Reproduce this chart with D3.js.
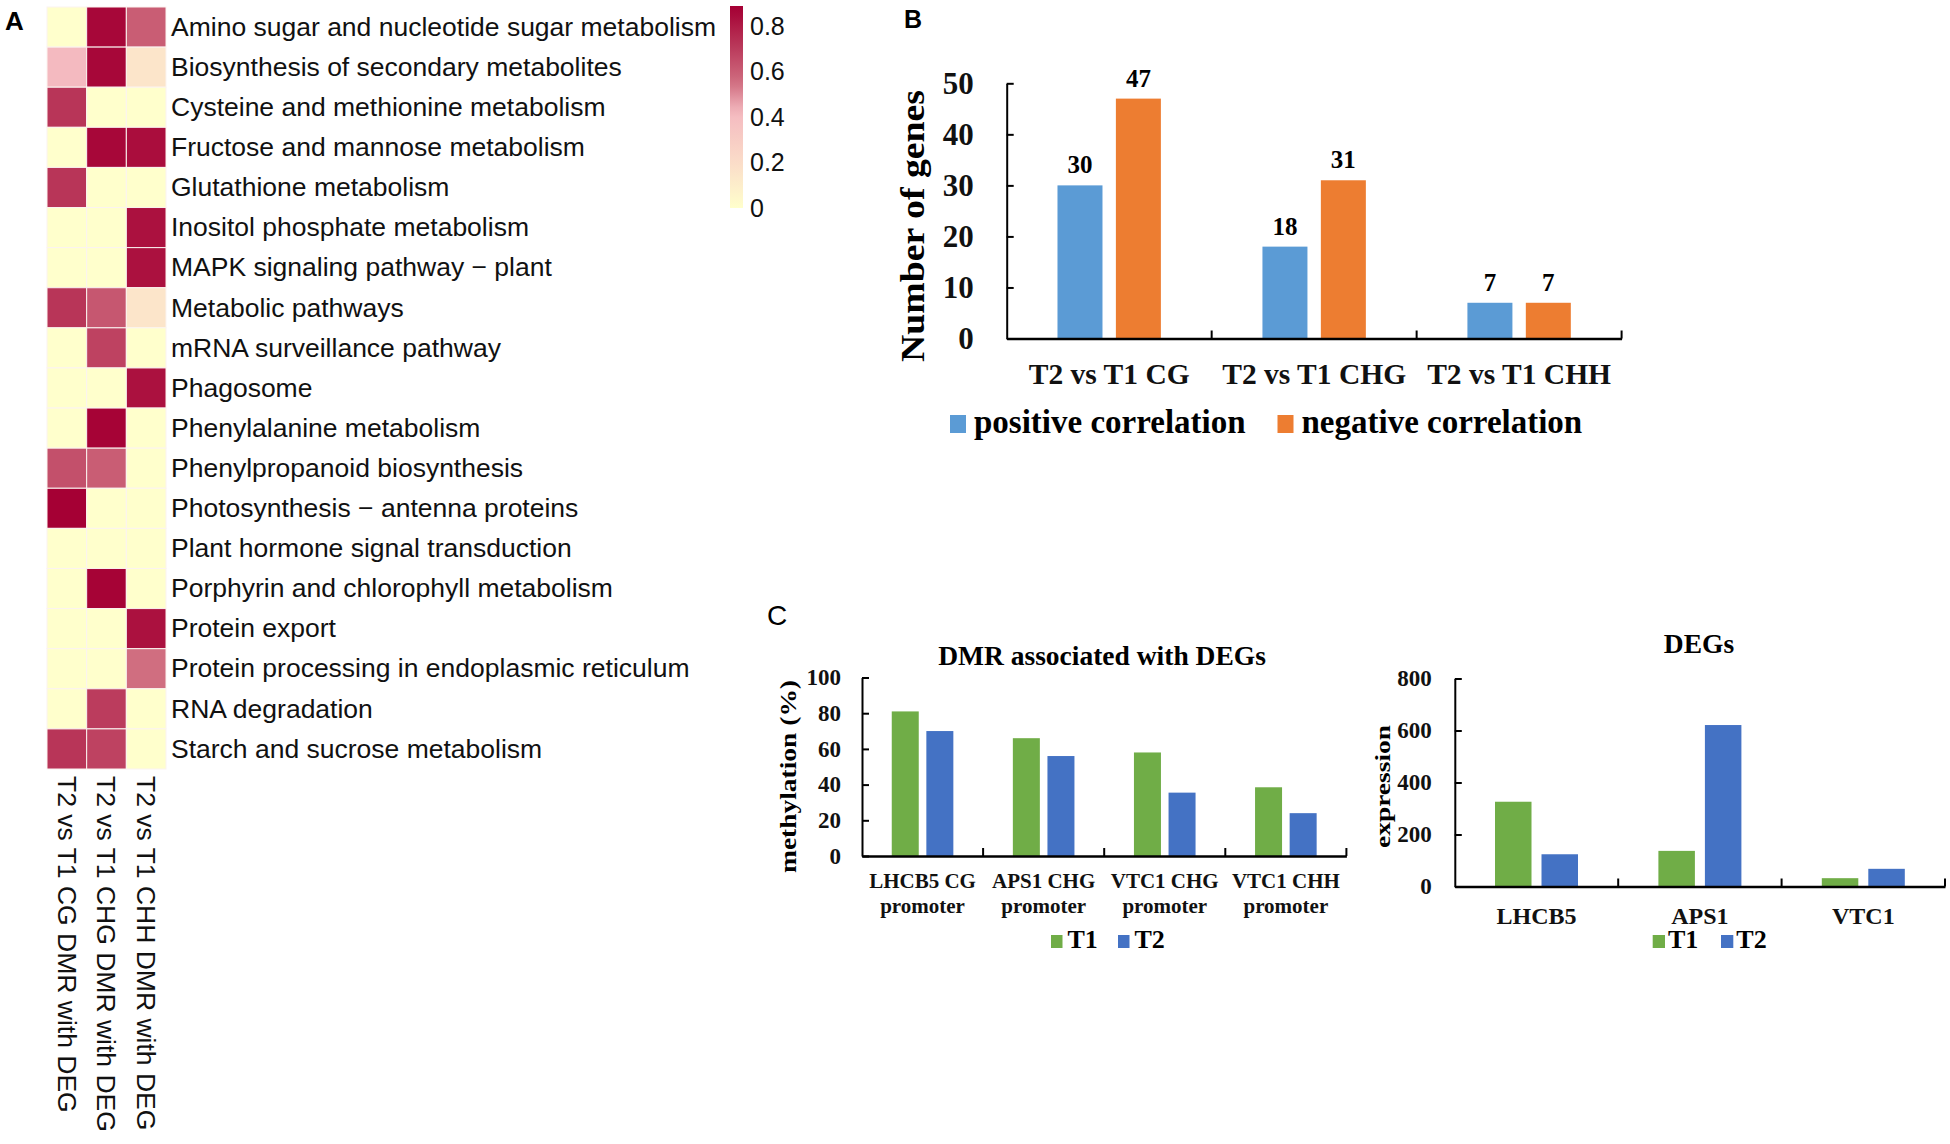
<!DOCTYPE html>
<html>
<head>
<meta charset="utf-8">
<script src="https://cdn.jsdelivr.net/npm/d3@7"></script>
<style>
  body { margin: 0; background: #fff; }
  svg { display: block; }
</style>
</head>
<body>
<svg id="fig" width="1950" height="1144"></svg>
<script>
// ---- data ----
const pathways = [
  'Amino sugar and nucleotide sugar metabolism',
  'Biosynthesis of secondary metabolites',
  'Cysteine and methionine metabolism',
  'Fructose and mannose metabolism',
  'Glutathione metabolism',
  'Inositol phosphate metabolism',
  'MAPK signaling pathway \u2212 plant',
  'Metabolic pathways',
  'mRNA surveillance pathway',
  'Phagosome',
  'Phenylalanine metabolism',
  'Phenylpropanoid biosynthesis',
  'Photosynthesis \u2212 antenna proteins',
  'Plant hormone signal transduction',
  'Porphyrin and chlorophyll metabolism',
  'Protein export',
  'Protein processing in endoplasmic reticulum',
  'RNA degradation',
  'Starch and sucrose metabolism'
];
const heatCols = ['T2 vs T1 CG DMR with DEG', 'T2 vs T1 CHG DMR with DEG', 'T2 vs T1 CHH DMR with DEG'];
const cgVals  = [0, 0.42, 0.72, 0, 0.72, 0, 0, 0.72, 0, 0, 0, 0.64, 0.88, 0, 0, 0, 0, 0, 0.72];
const chgVals = [0.86, 0.86, 0, 0.86, 0, 0, 0, 0.62, 0.68, 0, 0.87, 0.6, 0, 0, 0.87, 0, 0, 0.7, 0.68];
const chhVals = [0.6, 0.15, 0, 0.84, 0, 0.83, 0.83, 0.15, 0, 0.83, 0, 0, 0, 0, 0, 0.83, 0.55, 0, 0];
const legendTicks = [0, 0.2, 0.4, 0.6, 0.8];
const legendMax = 0.887;

const bGroups = ['T2 vs T1 CG', 'T2 vs T1 CHG', 'T2 vs T1 CHH'];
const bSeries = ['positive correlation', 'negative correlation'];
const bPositive = [30, 18, 7];
const bNegative = [47, 31, 7];
const bTicks = [0, 10, 20, 30, 40, 50];

const dmrSites = [['LHCB5 CG', 'promoter'], ['APS1 CHG', 'promoter'], ['VTC1 CHG', 'promoter'], ['VTC1 CHH', 'promoter']];
const dmrT1 = [81, 66, 58, 38.5];
const dmrT2 = [70, 56, 35.5, 24];
const dmrTicks = [0, 20, 40, 60, 80, 100];

const degGenes = ['LHCB5', 'APS1', 'VTC1'];
const degT1 = [326, 137, 32];
const degT2 = [124, 621, 68];
const degTicks = [0, 200, 400, 600, 800];

const cSeries = ['T1', 'T2'];

const SANS = '"Liberation Sans", Arial, sans-serif';
const SERIF = '"Liberation Serif", "Times New Roman", serif';

const svg = d3.select('#fig');

// panel letters
svg.append('text').attr('x', 5).attr('y', 30).attr('font-family', SANS).attr('font-weight', 'bold').attr('font-size', 26).text('A');
svg.append('text').attr('x', 904).attr('y', 28).attr('font-family', SANS).attr('font-weight', 'bold').attr('font-size', 25).text('B');
svg.append('text').attr('x', 767).attr('y', 625).attr('font-family', SANS).attr('font-size', 28).text('C');

// ================= A : heatmap =================
const heatRows = pathways.map((p, i) => ({ name: p, vals: [cgVals[i], chgVals[i], chhVals[i]] }));

const hx = d3.scaleBand().domain(heatCols).range([47, 166]);
const hy = d3.scaleBand().domain(pathways).range([7, 769]);
const heatColor = d3.scaleLinear()
  .domain([0, 0.2, 0.42, 0.55, 0.72, 0.88])
  .range(['#FFFFCC', '#FBDCC9', '#F4BAC0', '#D06E80', '#B83558', '#A50034'])
  .clamp(true);

const gA = svg.append('g');
heatRows.forEach(r => {
  gA.selectAll(null)
    .data(heatCols.map((c, j) => ({ col: c, v: r.vals[j] })))
    .enter().append('rect')
    .attr('x', d => hx(d.col))
    .attr('y', hy(r.name))
    .attr('width', hx.bandwidth())
    .attr('height', hy.bandwidth())
    .attr('fill', d => heatColor(d.v))
    .attr('stroke', '#fbf3f0')
    .attr('stroke-width', 1);
});

// row labels
gA.selectAll('.rowlab')
  .data(pathways)
  .enter().append('text')
  .attr('class', 'rowlab')
  .attr('x', 171)
  .attr('y', d => hy(d) + hy.bandwidth() / 2)
  .attr('dy', '0.33em')
  .attr('font-family', SANS)
  .attr('font-size', 26.5)
  .attr('fill', '#111')
  .text(d => d);

// column labels (rotated)
gA.selectAll('.collab')
  .data(heatCols)
  .enter().append('text')
  .attr('class', 'collab')
  .attr('transform', d => `translate(${hx(d) + hx.bandwidth() / 2},776) rotate(90)`)
  .attr('dy', '0.35em')
  .attr('font-family', SANS)
  .attr('font-size', 26.5)
  .attr('fill', '#111')
  .text(d => d);

// colour legend
const ly = d3.scaleLinear().domain([0, legendMax]).range([208, 6]);
const grad = svg.append('defs').append('linearGradient')
  .attr('id', 'heatgrad').attr('x1', 0).attr('y1', 1).attr('x2', 0).attr('y2', 0);
d3.range(0, 1.0001, 0.05).forEach(t => {
  grad.append('stop').attr('offset', t).attr('stop-color', heatColor(t * legendMax));
});
svg.append('rect')
  .attr('x', 730).attr('y', ly(legendMax))
  .attr('width', 13).attr('height', ly(0) - ly(legendMax))
  .attr('fill', 'url(#heatgrad)');
svg.selectAll('.legtick')
  .data(legendTicks)
  .enter().append('text')
  .attr('class', 'legtick')
  .attr('x', 750)
  .attr('y', d => ly(d))
  .attr('dy', '0.36em')
  .attr('font-family', SANS)
  .attr('font-size', 25)
  .attr('fill', '#111')
  .text(d => d === 0 ? '0' : d3.format('.1f')(d));

// ================= grouped bar helper =================
function groupedBars(o) {
  const g = svg.append('g');
  const x0 = d3.scaleBand().domain(o.groups).range([o.left, o.right]);
  const gw = x0.bandwidth();
  const x1 = d3.scaleBand().domain(d3.range(o.series.length))
    .range([gw / 2 - o.barW - o.gap / 2, gw / 2 + o.barW + o.gap / 2])
    .paddingInner(o.gap / (o.barW + o.gap));
  const y = d3.scaleLinear().domain([0, o.yMax]).range([o.bottom, o.top]);

  // bars
  o.series.forEach((vals, s) => {
    g.selectAll(null)
      .data(vals.map((v, i) => ({ grp: o.groups[i], v })))
      .enter().append('rect')
      .attr('x', d => x0(d.grp) + x1(s))
      .attr('y', d => y(d.v))
      .attr('width', x1.bandwidth())
      .attr('height', d => y(0) - y(d.v))
      .attr('fill', o.colors[s]);
    if (o.valueLabels) {
      g.selectAll(null)
        .data(vals.map((v, i) => ({ grp: o.groups[i], v })))
        .enter().append('text')
        .attr('x', d => x0(d.grp) + x1(s) + x1.bandwidth() / 2)
        .attr('y', d => y(d.v) - 12)
        .attr('text-anchor', 'middle')
        .attr('font-family', SERIF)
        .attr('font-weight', 'bold')
        .attr('font-size', o.valueSize)
        .text(d => d.v);
    }
  });

  // y axis, ticks pointing inward
  const yAx = g.append('g')
    .attr('transform', `translate(${o.left},0)`)
    .call(d3.axisLeft(y).tickValues(o.ticks).tickSizeInner(-7).tickSizeOuter(0).tickPadding(o.yPad));
  yAx.select('.domain').attr('stroke-width', 2);
  yAx.selectAll('.tick line').attr('stroke-width', 2);
  yAx.selectAll('text')
    .attr('font-family', SERIF).attr('font-weight', 'bold')
    .attr('font-size', o.yFont).attr('fill', '#111');

  // x axis with boundary ticks
  const xAx = g.append('g')
    .attr('transform', `translate(0,${o.bottom})`)
    .call(d3.axisBottom(x0).tickSize(0).tickPadding(o.xPad));
  xAx.select('.domain').attr('stroke-width', 2.5);
  xAx.selectAll('text')
    .attr('font-family', SERIF).attr('font-weight', 'bold')
    .attr('font-size', o.xFont).attr('fill', '#111');
  if (o.lines) {
    xAx.selectAll('.tick text').each(function(d, i) {
      const t = d3.select(this).text(null);
      o.lines[i].forEach((ln, k) => {
        t.append('tspan').attr('x', 0).attr('dy', k === 0 ? '0.71em' : o.lineGap).text(ln);
      });
    });
  }
  xAx.selectAll('.bound')
    .data(o.groups)
    .enter().append('line')
    .attr('x1', d => x0(d) + x0.step()).attr('x2', d => x0(d) + x0.step())
    .attr('y1', 0).attr('y2', -8)
    .attr('stroke', '#000').attr('stroke-width', 2);

  // y title, stretched along its length like the original
  g.append('text')
    .attr('transform', `translate(${o.yTitleX},${o.yTitleY}) rotate(-90)`)
    .attr('x', -o.yTitleLen / 2)
    .attr('textLength', o.yTitleLen)
    .attr('lengthAdjust', 'spacingAndGlyphs')
    .attr('font-family', SERIF).attr('font-weight', 'bold')
    .attr('font-size', o.yTitleFont)
    .text(o.yTitle);

  if (o.title) {
    g.append('text')
      .attr('x', o.titleX).attr('y', o.titleY)
      .attr('text-anchor', 'middle')
      .attr('font-family', SERIF).attr('font-weight', 'bold')
      .attr('font-size', o.titleFont)
      .text(o.title);
  }

  // legend
  o.legend.forEach((l, i) => {
    g.append('rect')
      .attr('x', l.x).attr('y', o.legY - o.legBox)
      .attr('width', o.legBoxW).attr('height', o.legBox)
      .attr('fill', o.colors[i]);
    g.append('text')
      .attr('x', l.x + o.legBoxW + o.legGap).attr('y', o.legY)
      .attr('font-family', SERIF).attr('font-weight', 'bold')
      .attr('font-size', o.legFont)
      .text(o.legendNames[i]);
  });
}

// ================= B =================
groupedBars({
  groups: bGroups, series: [bPositive, bNegative], colors: ['#5B9BD5', '#ED7D31'],
  left: 1006.7, right: 1621.6, bottom: 338.5, top: 83.3, yMax: 50, ticks: bTicks,
  barW: 45, gap: 13.4, valueLabels: true, valueSize: 25,
  yPad: 33, yFont: 31, xPad: 25, xFont: 29.5,
  yTitle: 'Number of genes', yTitleX: 924, yTitleY: 226, yTitleLen: 272, yTitleFont: 33,
  legendNames: bSeries, legY: 433, legBox: 18, legBoxW: 16, legGap: 8, legFont: 33,
  legend: [{ x: 950 }, { x: 1277.5 }]
});

// ================= C left =================
groupedBars({
  groups: dmrSites.map(d => d.join(' ')), series: [dmrT1, dmrT2], colors: ['#70AD47', '#4472C4'],
  left: 862, right: 1346.4, bottom: 856, top: 677.5, yMax: 100, ticks: dmrTicks,
  barW: 27, gap: 7.6,
  yPad: 21, yFont: 23, xPad: 17, xFont: 21, lines: dmrSites, lineGap: 25,
  yTitle: 'methylation (%)', yTitleX: 796, yTitleY: 776.5, yTitleLen: 193, yTitleFont: 23,
  title: 'DMR associated with DEGs', titleX: 1102, titleY: 665, titleFont: 27.5,
  legendNames: cSeries, legY: 948, legBox: 13, legBoxW: 11.5, legGap: 5, legFont: 26,
  legend: [{ x: 1051 }, { x: 1118 }]
});

// ================= C right =================
groupedBars({
  groups: degGenes, series: [degT1, degT2], colors: ['#70AD47', '#4472C4'],
  left: 1454.8, right: 1945, bottom: 886.5, top: 678.5, yMax: 800, ticks: degTicks,
  barW: 36.5, gap: 10,
  yPad: 23, yFont: 23, xPad: 20, xFont: 24,
  yTitle: 'expression', yTitleX: 1390, yTitleY: 786.5, yTitleLen: 123, yTitleFont: 22,
  title: 'DEGs', titleX: 1699, titleY: 653, titleFont: 27.5,
  legendNames: cSeries, legY: 948, legBox: 13, legBoxW: 12.3, legGap: 3, legFont: 26,
  legend: [{ x: 1652.7 }, { x: 1721 }]
});
</script>
</body>
</html>
